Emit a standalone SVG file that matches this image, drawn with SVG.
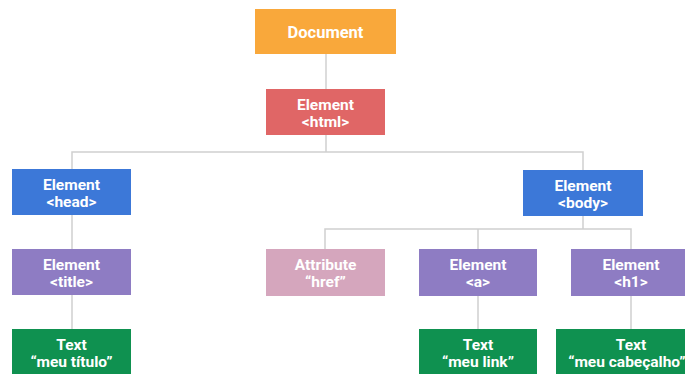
<svg xmlns="http://www.w3.org/2000/svg" width="685" height="374" viewBox="0 0 685 374">
<style>
.lbl{font-family:Roboto,"Liberation Sans",sans-serif;font-weight:bold;font-size:15.5px;fill:#fff;text-anchor:middle}
.big{font-size:16.5px}
.ln{stroke:#d0d0d0;stroke-width:1.5;fill:none}
</style>
<rect width="685" height="374" fill="#fff"/>
<g id="connectors">
<path class="ln" d="M326 54V89"/>
<path class="ln" d="M326 135V152M72 169V152H583V170"/>
<path class="ln" d="M72 215V249M72 295V329"/>
<path class="ln" d="M583 216V229M325 249V229H631V249M478 229V249"/>
<path class="ln" d="M478 296V329M631 296V329"/>
</g>
<g id="document"><rect x="255" y="9" width="141" height="45" fill="#F9A83B"/><text class="lbl big" x="325.5" y="37.5">Document</text></g>
<g id="html"><rect x="266" y="89" width="119" height="46" fill="#E06666"/><text class="lbl" x="325.5" y="109.5">Element</text><text class="lbl" x="325.5" y="126.5">&lt;html&gt;</text></g>
<g id="head"><rect x="12" y="169" width="119" height="46" fill="#3C78D8"/><text class="lbl" x="71.5" y="189.5">Element</text><text class="lbl" x="71.5" y="206.5">&lt;head&gt;</text></g>
<g id="body"><rect x="523" y="170" width="120" height="46" fill="#3C78D8"/><text class="lbl" x="583" y="190.5">Element</text><text class="lbl" x="583" y="207.5">&lt;body&gt;</text></g>
<g id="title"><rect x="12" y="249" width="119" height="46" fill="#8E7CC3"/><text class="lbl" x="71.5" y="269.5">Element</text><text class="lbl" x="71.5" y="286.5">&lt;title&gt;</text></g>
<g id="attribute"><rect x="266" y="249" width="119" height="47" fill="#D5A6BD"/><text class="lbl" x="325.5" y="270">Attribute</text><text class="lbl" x="325.5" y="287">“href”</text></g>
<g id="a"><rect x="419" y="249" width="118" height="47" fill="#8E7CC3"/><text class="lbl" x="478" y="270">Element</text><text class="lbl" x="478" y="287">&lt;a&gt;</text></g>
<g id="h1"><rect x="571" y="249" width="120" height="47" fill="#8E7CC3"/><text class="lbl" x="631" y="270">Element</text><text class="lbl" x="631" y="287">&lt;h1&gt;</text></g>
<g id="text-titulo"><rect x="12" y="329" width="119" height="46" fill="#0F9150"/><text class="lbl" x="71.5" y="350">Text</text><text class="lbl" x="71.5" y="366.5">“meu título”</text></g>
<g id="text-link"><rect x="419" y="329" width="118" height="46" fill="#0F9150"/><text class="lbl" x="478" y="350">Text</text><text class="lbl" x="478" y="366.5">“meu link”</text></g>
<g id="text-cabecalho"><rect x="556" y="329" width="150" height="46" fill="#0F9150"/><text class="lbl" x="631" y="350">Text</text><text class="lbl" x="627" y="366.5">“meu cabeçalho”</text></g>
</svg>
